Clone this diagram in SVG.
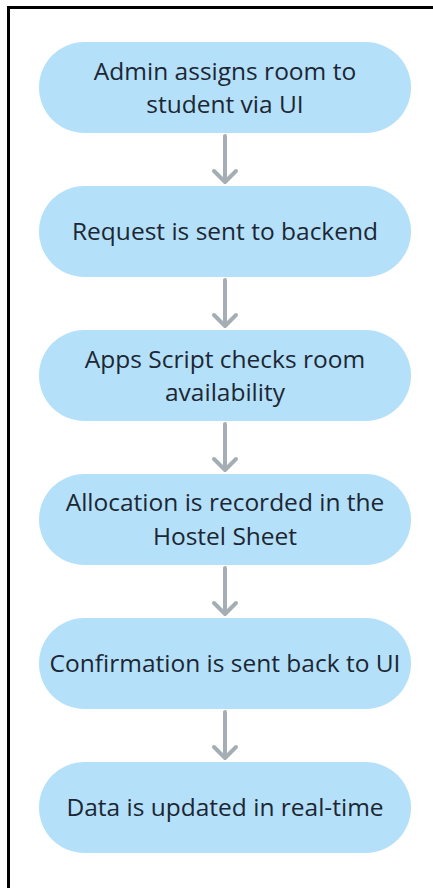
<svg xmlns="http://www.w3.org/2000/svg" width="433" height="888" viewBox="0 0 433 888">
  <style>
    .step { fill: #b4e0fa; }
    .label { font-family: "Open Sans", "Noto Sans", sans-serif; font-size: 24.5px; fill: #1c2733; text-anchor: middle; }
    .flow { stroke: #a6aeb5; stroke-width: 4; fill: none; stroke-linecap: round; stroke-linejoin: round; }
  </style>
  <rect x="0" y="0" width="433" height="888" fill="#ffffff"/>
  <!-- outer frame: left and top edges visible -->
  <path d="M8.5 895 V7.5 H440" fill="none" stroke="#000000" stroke-width="3"/>

  <g id="connectors">
    <g class="flow">
      <path d="M225 136 V182 M214 171 L225 182 L236 171"/>
      <path d="M225 280 V326 M214 315 L225 326 L236 315"/>
      <path d="M225 424 V470 M214 459 L225 470 L236 459"/>
      <path d="M225 568 V614 M214 603 L225 614 L236 603"/>
      <path d="M225 712 V758 M214 747 L225 758 L236 747"/>
    </g>
  </g>

  <g id="node1">
    <rect class="step" x="39" y="42" width="372" height="91" rx="45.5"/>
    <text class="label" x="225" y="80">Admin assigns room to</text>
    <text class="label" x="225" y="113">student via UI</text>
  </g>
  <g id="node2">
    <rect class="step" x="39" y="186" width="372" height="91" rx="45.5"/>
    <text class="label" x="225" y="240">Request is sent to backend</text>
  </g>
  <g id="node3">
    <rect class="step" x="39" y="330" width="372" height="91" rx="45.5"/>
    <text class="label" x="225" y="368">Apps Script checks room</text>
    <text class="label" x="225" y="401">availability</text>
  </g>
  <g id="node4">
    <rect class="step" x="39" y="474" width="372" height="91" rx="45.5"/>
    <text class="label" x="225" y="511">Allocation is recorded in the</text>
    <text class="label" x="225" y="545">Hostel Sheet</text>
  </g>
  <g id="node5">
    <rect class="step" x="39" y="618" width="372" height="91" rx="45.5"/>
    <text class="label" x="225" y="672">Confirmation is sent back to UI</text>
  </g>
  <g id="node6">
    <rect class="step" x="39" y="762" width="372" height="91" rx="45.5"/>
    <text class="label" x="225" y="816">Data is updated in real-time</text>
  </g>
</svg>
